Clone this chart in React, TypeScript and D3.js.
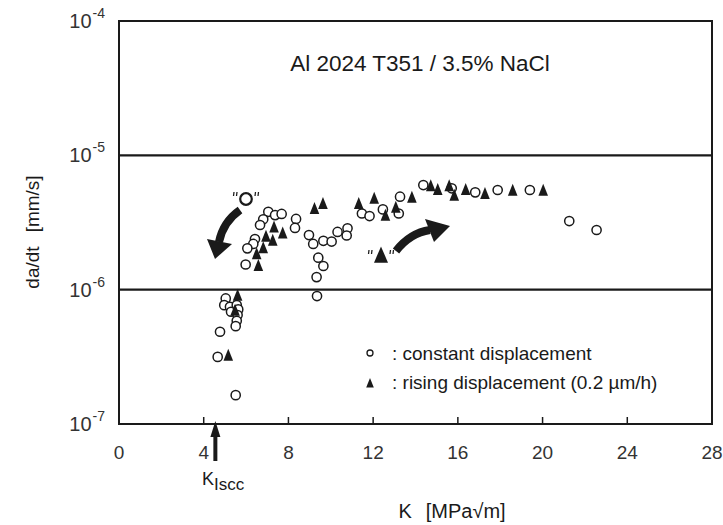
import React from 'react';
import * as d3 from 'd3';

// constant displacement (open circles): K [MPa√m], da/dt [mm/s]
const constK = [7.05, 7.37, 7.68, 6.81, 6.66, 6.42, 6.34, 6.06, 5.98, 8.36, 8.31, 8.97, 9.17, 9.65, 10.04, 10.32, 10.79, 10.75, 9.41, 9.65, 9.33, 9.35, 11.47, 11.83, 12.46, 13.21, 13.27, 14.37, 15.71, 16.82, 17.88, 19.4, 21.26, 22.55, 5.04, 4.97, 5.24, 5.29, 5.56, 5.63, 5.6, 5.56, 5.51, 4.77, 4.66, 5.51];
const constRate = [3.8e-6, 3.59e-6, 3.66e-6, 3.34e-6, 3.03e-6, 2.38e-6, 2.19e-6, 2.03e-6, 1.54e-6, 3.36e-6, 2.88e-6, 2.55e-6, 2.19e-6, 2.31e-6, 2.28e-6, 2.69e-6, 2.86e-6, 2.53e-6, 1.73e-6, 1.5e-6, 1.24e-6, 8.96e-7, 3.69e-6, 3.53e-6, 3.96e-6, 3.69e-6, 4.92e-6, 6.01e-6, 5.68e-6, 5.3e-6, 5.52e-6, 5.52e-6, 3.24e-6, 2.78e-6, 8.6e-7, 7.67e-7, 7.46e-7, 6.85e-7, 7.67e-7, 7.13e-7, 6.47e-7, 5.87e-7, 5.35e-7, 4.86e-7, 3.16e-7, 1.64e-7];

// rising displacement (filled triangles)
const risingK = [7.32, 7.73, 6.94, 7.26, 6.81, 6.5, 6.58, 9.23, 9.63, 11.32, 12.05, 12.58, 13.07, 13.83, 14.72, 15.05, 15.59, 15.83, 16.37, 17.28, 18.59, 20.03, 5.6, 5.48, 5.16];
const risingRate = [2.94e-6, 2.65e-6, 2.51e-6, 2.34e-6, 2.06e-6, 1.86e-6, 1.52e-6, 4.03e-6, 4.4e-6, 4.4e-6, 4.81e-6, 3.59e-6, 4.12e-6, 4.89e-6, 5.96e-6, 5.58e-6, 5.96e-6, 5.06e-6, 5.58e-6, 5.21e-6, 5.52e-6, 5.52e-6, 9.12e-7, 7.05e-7, 3.26e-7];

const xTicks = [0, 4, 8, 12, 16, 20, 24, 28];
const yExponents = [-4, -5, -6, -7];
const lineExponents = [-5, -6];
const kIscc = 4.55;

const title = 'Al 2024 T351 / 3.5% NaCl';
const legendLabels = [': constant displacement', ': rising displacement (0.2 µm/h)'];

const FONT = '"Liberation Sans", Arial, Helvetica, sans-serif';
const INK = '#1a1a1a';

export default function App() {
  const x = d3.scaleLinear().domain([0, 28]).range([119, 712]);
  const y = d3.scaleLog().domain([1e-7, 1e-4]).range([424, 21]);
  const left = x(0), right = x(28), top = y(1e-4), bottom = y(1e-7);

  const tri = (cx: number, cy: number, w = 4.8, h = 6.3) =>
    `M${cx},${cy - h}L${cx + w},${cy + h * 0.9}L${cx - w},${cy + h * 0.9}Z`;

  const quotes = (cx: number, cy: number, gap: number) => (
    <g stroke={INK} strokeWidth={1.3}>
      <line x1={cx - gap - 1} y1={cy - 4} x2={cx - gap - 1.5} y2={cy} />
      <line x1={cx - gap + 2} y1={cy - 4} x2={cx - gap + 1.5} y2={cy} />
      <line x1={cx + gap - 1.5} y1={cy - 4} x2={cx + gap - 2} y2={cy} />
      <line x1={cx + gap + 1.5} y1={cy - 4} x2={cx + gap + 1} y2={cy} />
    </g>
  );

  return (
    <svg width={723} height={525} style={{ position: 'absolute', left: 0, top: 0, background: '#fff' }}
      fontFamily={FONT}>
      <rect x={0} y={0} width={723} height={525} fill="#fff" />
      {/* frame */}
      <rect x={left} y={top} width={right - left} height={bottom - top} fill="none" stroke={INK} strokeWidth={2} />
      {lineExponents.map(e => (
        <line key={e} x1={left} x2={right} y1={y(Math.pow(10, e))} y2={y(Math.pow(10, e))} stroke={INK} strokeWidth={2.2} />
      ))}
      {/* x ticks */}
      {xTicks.filter(t => t > 0 && t < 28).map(t => (
        <line key={t} x1={x(t)} x2={x(t)} y1={bottom} y2={bottom - 7} stroke={INK} strokeWidth={1.5} />
      ))}
      {xTicks.map(t => (
        <text key={t} x={x(t)} y={bottom + 35} textAnchor="middle" fontSize={19} fill="#333">{t}</text>
      ))}
      {/* y labels */}
      {yExponents.map(e => (
        <text key={e} x={105} y={y(Math.pow(10, e)) + 7} textAnchor="end" fontSize={20} fill="#333">
          10
          <tspan dx={1} dy={-10} fontSize={14}>{'-' + Math.abs(e)}</tspan>
        </text>
      ))}
      <text transform={`translate(39,232) rotate(-90)`} textAnchor="middle" fontSize={19} fill={INK}>
        <tspan>da/dt</tspan><tspan dx={14}>[mm/s]</tspan>
      </text>
      <text x={452} y={518} textAnchor="middle" fontSize={20} fill={INK}>
        <tspan>K</tspan><tspan dx={14}>[MPa√m]</tspan>
      </text>
      {/* K_Iscc arrow */}
      <line x1={x(kIscc)} x2={x(kIscc)} y1={bottom + 10} y2={bottom + 37} stroke={INK} strokeWidth={4} />
      <path d={`M${x(kIscc)},${bottom - 3}L${x(kIscc) + 5},${bottom + 13}L${x(kIscc) - 5},${bottom + 13}Z`} fill={INK} />
      <text x={202} y={485} fontSize={18} fill={INK}>K<tspan dy={5} fontSize={17}>Iscc</tspan></text>
      {/* title */}
      <text x={420} y={71} textAnchor="middle" fontSize={22.5} fill={INK}>{title}</text>
      {/* data */}
      {constK.map((k, i) => (
        <circle key={'c' + i} cx={x(k)} cy={y(constRate[i])} r={4.6} fill="#fff" stroke={INK} strokeWidth={1.5} />
      ))}
      {risingK.map((k, i) => (
        <path key={'t' + i} d={tri(x(k), y(risingRate[i]))} fill={INK} />
      ))}
      {/* annotation arrows */}
      <path d="M240,210 Q223,222 219,242" fill="none" stroke={INK} strokeWidth={8} />
      <path d="M207,239 L232,244 L215,259 Z" fill={INK} />
      <path d="M396,251 Q410,233 430,230" fill="none" stroke={INK} strokeWidth={8} />
      <path d="M425,219 L450,226 L434,242 Z" fill={INK} />
      <circle cx={246} cy={199} r={5.8} fill="#fff" stroke={INK} strokeWidth={2.2} />
      {quotes(246, 196, 11)}
      <path d={tri(381, 255, 7, 8.5)} fill={INK} />
      {quotes(381, 254, 11)}
      {/* legend */}
      <circle cx={370} cy={353} r={3} fill="#fff" stroke={INK} strokeWidth={1.3} />
      <text x={392} y={360} fontSize={19} fill={INK}>{legendLabels[0]}</text>
      <path d={tri(370, 383, 3.8, 5)} fill={INK} />
      <text x={392} y={389} fontSize={19} fill={INK}>{legendLabels[1]}</text>
    </svg>
  );
}
